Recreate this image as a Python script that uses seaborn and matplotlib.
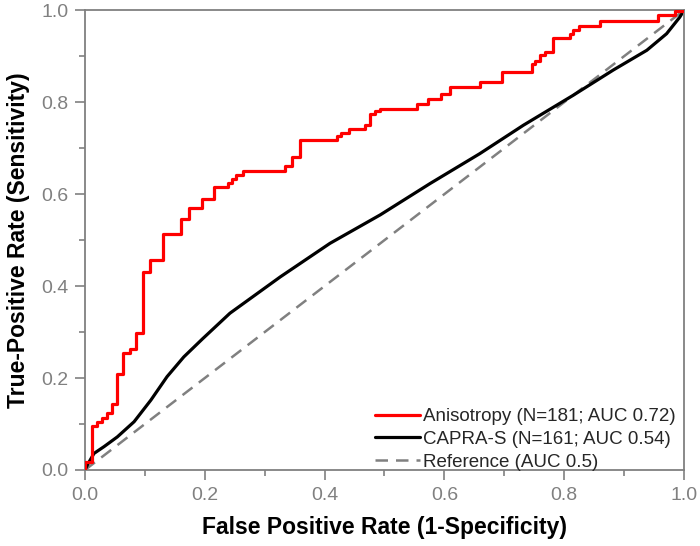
import numpy as np
import pandas as pd
import matplotlib
matplotlib.use("Agg")
import matplotlib.pyplot as plt
import seaborn as sns

# ROC points (false positive rate, true positive rate)
aniso_fpr = [0.0, 0.0, 0.011, 0.0195, 0.028, 0.036, 0.0445, 0.053, 0.064, 0.075,
             0.086, 0.097, 0.1085, 0.13, 0.161, 0.174, 0.195, 0.215, 0.238, 0.245,
             0.252, 0.264, 0.334, 0.345, 0.359, 0.42, 0.428, 0.44, 0.467, 0.476,
             0.484, 0.4925, 0.554, 0.573, 0.594, 0.609, 0.659, 0.696, 0.746, 0.751,
             0.76, 0.768, 0.782, 0.81, 0.815, 0.824, 0.86, 0.956, 0.985, 1.0]
aniso_tpr = [0.0, 0.018, 0.096, 0.105, 0.113, 0.123, 0.143, 0.209, 0.254, 0.264,
             0.297, 0.431, 0.457, 0.514, 0.545, 0.569, 0.59, 0.615, 0.625, 0.634,
             0.641, 0.651, 0.661, 0.681, 0.717, 0.726, 0.733, 0.741, 0.75, 0.774,
             0.781, 0.786, 0.797, 0.808, 0.817, 0.832, 0.843, 0.866, 0.884, 0.89,
             0.902, 0.91, 0.94, 0.949, 0.957, 0.965, 0.977, 0.989, 0.998, 1.0]

capra_fpr = [0.0, 0.004, 0.015, 0.032, 0.054, 0.082, 0.11, 0.137, 0.165, 0.196,
             0.242, 0.326, 0.409, 0.493, 0.576, 0.659, 0.732, 0.815, 0.882, 0.938,
             0.971, 0.993, 1.0]
capra_tpr = [0.0, 0.011, 0.036, 0.051, 0.072, 0.105, 0.152, 0.203, 0.246, 0.285,
             0.341, 0.42, 0.493, 0.555, 0.623, 0.688, 0.75, 0.815, 0.87, 0.913,
             0.949, 0.985, 1.0]

ref_fpr = [0.0, 1.0]
ref_tpr = [0.0, 1.0]

labels = ["Anisotropy (N=181; AUC 0.72)", "CAPRA-S (N=161; AUC 0.54)", "Reference (AUC 0.5)"]
ticks = [0.0, 0.2, 0.4, 0.6, 0.8, 1.0]

sns.set_theme(style="white")
plt.rcParams["font.family"] = ["Liberation Sans", "DejaVu Sans"]
GREY = "#808080"

fig = plt.figure(figsize=(7, 5.46), dpi=100)
ax = fig.add_axes([0.1214, 0.1392, 0.8557, 0.842])

aniso = pd.DataFrame({"fpr": aniso_fpr, "tpr": aniso_tpr})
capra = pd.DataFrame({"fpr": capra_fpr, "tpr": capra_tpr})
ref = pd.DataFrame({"fpr": ref_fpr, "tpr": ref_tpr})

sns.lineplot(aniso, x="fpr", y="tpr", ax=ax, color="#ff0000", lw=2.3, estimator=None,
             sort=False, drawstyle="steps-post", label=labels[0], zorder=3)
sns.lineplot(capra, x="fpr", y="tpr", ax=ax, color="black", lw=2.3, estimator=None,
             sort=False, label=labels[1], zorder=2)
sns.lineplot(ref, x="fpr", y="tpr", ax=ax, color=GREY, lw=1.8, estimator=None,
             sort=False, dashes=False, label=labels[2], zorder=1)
ax.lines[-1].set_dashes((5, 3.2))

ax.set_xlim(0, 1); ax.set_ylim(0, 1)
ax.set_xticks(ticks); ax.set_yticks(ticks)
ax.set_xticklabels([f"{t:.1f}" for t in ticks]); ax.set_yticklabels([f"{t:.1f}" for t in ticks])
ax.set_xticks(np.arange(0.1, 1.0, 0.2), minor=True)
ax.set_yticks(np.arange(0.1, 1.0, 0.2), minor=True)
ax.tick_params(which="major", direction="out", length=7, width=1.2, color=GREY,
               labelcolor=GREY, labelsize=14, pad=5, bottom=True, left=True)
ax.tick_params(which="minor", direction="out", length=4.3, width=1.2, color=GREY,
               bottom=True, left=True)
for s in ax.spines.values():
    s.set_color(GREY); s.set_linewidth(1.3)

ax.set_xlabel("False Positive Rate (1-Specificity)", fontsize=16.5, fontweight="bold",
              color="black", labelpad=9)
ax.set_ylabel("True-Positive Rate (Sensitivity)", fontsize=16.5, fontweight="bold",
              color="black", labelpad=8)

ax.legend(loc="lower right", bbox_to_anchor=(1.005, -0.026), frameon=False, fontsize=13.5,
          handlelength=2.4, handletextpad=0.15, labelspacing=0.3, borderaxespad=0.2)

fig.savefig("out.png", dpi=100)
